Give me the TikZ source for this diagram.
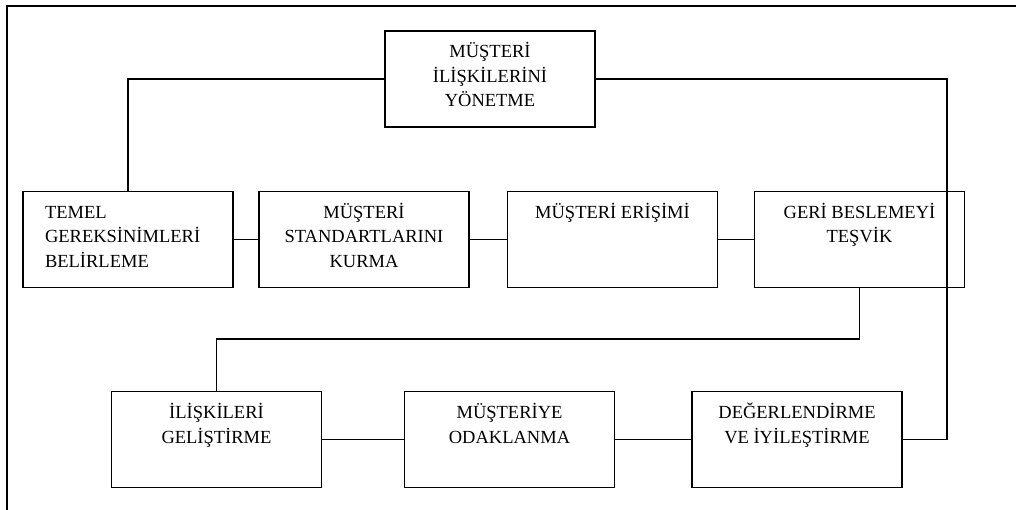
\documentclass[tikz,border=0pt]{standalone}
\usepackage{fontspec}
\setmainfont{Liberation Serif}
\newcommand{\bxc}[1]{\parbox[c][96pt][t]{210pt}{\fontsize{18.5}{24.5}\selectfont\centering\rule{0pt}{27pt}#1\par}}
\newcommand{\bxl}[1]{\parbox[c][96pt][t]{210pt}{\fontsize{18.5}{24.5}\selectfont\raggedright\leftskip=22pt\rule{0pt}{27pt}#1\par}}
\begin{document}
\begin{tikzpicture}[x=1pt,y=-1pt,
  box/.style={draw,line width=1.8pt,inner sep=0pt,outer sep=0pt},
  conn/.style={line width=1.5pt},
  frame/.style={line width=1.5pt}]
\useasboundingbox (0,0) rectangle (1016,510);
% frame
\draw[frame] (7,510) -- (7,6) -- (1016,6);
% nodes
\node[box] (top)    at (490,79)    {\bxc{MÜŞTERİ\\İLİŞKİLERİNİ\\YÖNETME}};
\node[box] (temel)  at (128,239.5) {\bxl{TEMEL\\GEREKSİNİMLERİ\\BELİRLEME}};
\node[box] (stand)  at (364,239.5) {\bxc{MÜŞTERİ\\STANDARTLARINI\\KURMA}};
\node[box] (eris)   at (612.5,239.5) {\bxc{MÜŞTERİ ERİŞİMİ}};
\node[box] (geri)   at (859.5,239.5) {\bxc{GERİ BESLEMEYİ\\TEŞVİK}};
\node[box] (iliski) at (216.5,439.5) {\bxc{İLİŞKİLERİ\\GELİŞTİRME}};
\node[box] (odak)   at (509.5,439.5) {\bxc{MÜŞTERİYE\\ODAKLANMA}};
\node[box] (deger)  at (797,439.5)   {\bxc{DEĞERLENDİRME\\VE İYİLEŞTİRME}};
% helper coordinates
\coordinate (rx) at (947,0);
\coordinate (mid) at (0,339);
% connectors
\draw[conn] (top.west) -| (temel.north);
\draw[conn] (top.east) -- (top.east -| rx) |- (deger.east);
\draw[conn] (temel.east) -- (stand.west);
\draw[conn] (stand.east) -- (eris.west);
\draw[conn] (eris.east) -- (geri.west);
\draw[conn] (geri.south) -- (geri.south |- mid) -| (iliski.north);
\draw[conn] (iliski.east) -- (odak.west);
\draw[conn] (odak.east) -- (deger.west);
\end{tikzpicture}
\end{document}
